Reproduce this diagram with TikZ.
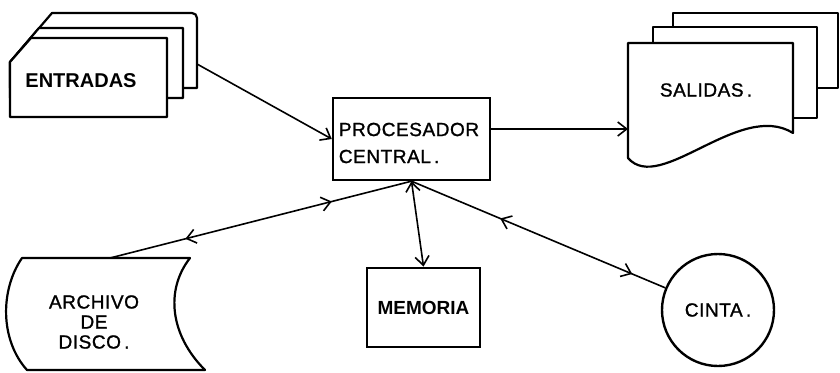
\documentclass[tikz,border=0pt]{standalone}
\usepackage{fontspec}
\setmainfont{Liberation Sans}
\newfontfamily\handfont[LetterSpace=3,FakeBold=1.2]{Liberation Sans}
\usetikzlibrary{arrows.meta,decorations.markings}
\begin{document}
\begin{tikzpicture}[x=1pt,y=-1pt,
  >={Straight Barb[length=9pt,width=14pt]},
  box/.style={draw,line width=2.4pt,fill=white,inner sep=0pt},
  card/.style={draw,line width=2.2pt,fill=white,line join=round},
  conn/.style={line width=1.6pt},
  lbl/.style={font=\handfont\fontsize{19}{20}\selectfont,align=center,inner sep=0pt},
  twoway/.style 2 args={postaction={decorate,decoration={markings,
      mark=at position #1 with {\arrow{<}},
      mark=at position #2 with {\arrow{>}}}}},
]
\useasboundingbox (0,0) rectangle (840,372);

% ENTRADAS cards
\draw[card] (52,13) -- (192,13) to[out=0,in=90] (197,18) -- (197,88) -- (10,88) -- (10,62) -- cycle;
\draw[card] (39,28) -- (183,28) -- (183,98) -- (10,98) -- (10,62) -- cycle;
\draw[card] (10,62) -- (31,38) -- (167,38) -- (167,117) -- (10,117) -- cycle;
\node[font=\bfseries\fontsize{20}{24}\selectfont,inner sep=0pt] (ent) at (81,81) {ENTRADAS};

% SALIDAS cards
\draw[card] (673,13) rectangle (838,88);
\draw[card] (653,27) rectangle (817,118);
\draw[card] (628,43) -- (793,43) -- (793,133)
  .. controls (740,100) and (660,195) .. (628,158) -- cycle;
\node[lbl] (sal) at (706,90) {SALIDAS\,.};

% ARCHIVO DE DISCO
\draw[card] (22,258) -- (190,258) .. controls (165,290) and (170,335) .. (205,370)
  -- (27,370) .. controls (0,340) and (0,290) .. (22,258) -- cycle;
\node[lbl] (arch) at (94,322) {ARCHIVO\\DE\\DISCO\,.};
\coordinate (arch-top) at (110,258);

% PROCESADOR
\node[box,minimum width=157pt,minimum height=82pt] (proc) at (411.5,139) {};
\node[lbl,align=left,font=\handfont\fontsize{19}{27}\selectfont] (proctxt) at (409,143) {PROCESADOR\\CENTRAL\,.};

% MEMORIA
\node[box,line width=2.8pt,minimum width=113pt,minimum height=79pt,
  font=\bfseries\fontsize{19}{20}\selectfont] (mem) at (423.5,307.5) {MEMORIA};

% CINTA
\node[circle,draw,line width=2.4pt,minimum size=112pt,inner sep=0pt,
  font=\handfont\fontsize{19}{20}\selectfont] (cinta) at (718,310) {CINTA\,.};

% connectors
\coordinate (ent-out) at (197,64);
\coordinate (sal-in) at (628,129);
\draw[conn,->] (ent-out) -- (proc.west);
\draw[conn,->] (proc.east |- sal-in) -- (sal-in);
\draw[conn,<->] (proc.south) -- (mem.north);
\draw[conn,twoway={0.3}{0.75}] (proc.south) -- (arch-top);
\draw[conn,twoway={0.39}{0.87}] (proc.south) -- (cinta);
\end{tikzpicture}
\end{document}
